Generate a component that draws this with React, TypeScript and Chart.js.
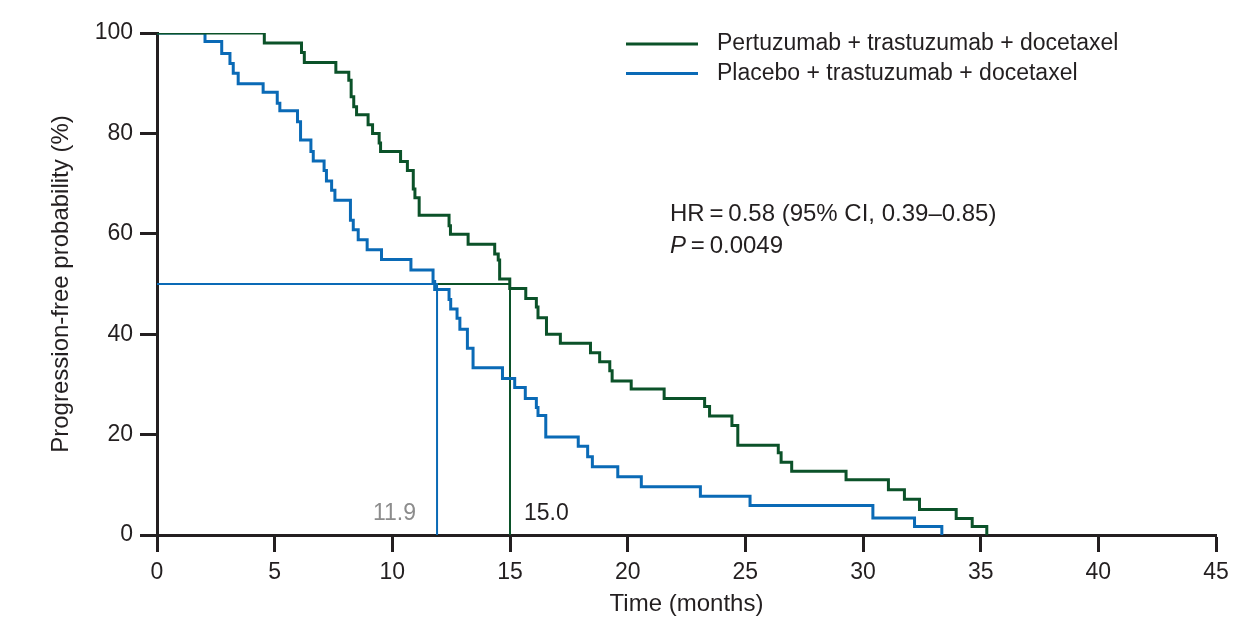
import React, { useEffect, useRef } from 'react';
import { Chart, registerables } from 'chart.js';

Chart.register(...registerables);

// ---- Data ----
const pertuzumabTimes = [0, 4.56, 6.14, 6.26, 7.6, 8.15, 8.25, 8.36, 8.48, 8.97, 9.16, 9.44, 9.5, 10.35, 10.64, 10.89, 10.96, 11.14, 12.41, 12.47, 13.22, 14.35, 14.5, 14.56, 14.99, 15.67, 16.12, 16.19, 16.55, 17.14, 18.42, 18.81, 19.24, 19.34, 20.15, 21.55, 23.27, 23.48, 24.43, 24.68, 26.4, 26.52, 26.97, 29.28, 31.08, 31.76, 32.4, 33.96, 34.64, 35.26];
const pertuzumabPFS = [100, 98, 96.1, 94.1, 92.2, 90.6, 87.3, 85.3, 83.7, 81.7, 80.0, 78.1, 76.4, 74.4, 72.6, 68.9, 67.2, 63.7, 61.6, 59.9, 57.9, 56.0, 54.8, 51.0, 49.1, 47.1, 45.4, 43.3, 40.0, 38.2, 36.3, 34.5, 32.7, 30.7, 29.1, 27.2, 25.6, 23.7, 21.8, 17.9, 16.4, 14.5, 12.7, 11.0, 9.0, 7.1, 5.1, 3.3, 1.7, 0];

const placeboTimes = [0, 2.04, 2.75, 3.1, 3.24, 3.45, 4.51, 5.11, 5.22, 5.97, 6.1, 6.54, 6.64, 7.1, 7.2, 7.42, 7.56, 8.22, 8.34, 8.55, 8.93, 9.54, 10.79, 11.73, 11.8, 12.41, 12.48, 12.75, 12.87, 13.19, 13.43, 14.68, 15.2, 15.65, 16.12, 16.19, 16.52, 17.9, 18.3, 18.5, 19.58, 20.58, 23.09, 25.2, 30.42, 32.19, 33.35];
const placeboPFS = [100, 98.3, 95.9, 93.9, 92.0, 89.9, 88.2, 86.0, 84.5, 82.3, 78.7, 76.4, 74.5, 72.6, 70.5, 68.7, 66.7, 62.7, 60.8, 58.8, 56.8, 54.9, 52.8, 50.5, 48.9, 46.9, 45.0, 43.2, 41.0, 37.2, 33.3, 31.2, 29.4, 27.2, 25.4, 23.8, 19.5, 17.7, 15.6, 13.6, 11.6, 9.6, 7.7, 5.9, 3.4, 1.7, 0];

const medianPlacebo = 11.9;
const medianPertuzumab = 15.0;
const medianLevel = 50;

const seriesLabels = ['Pertuzumab + trastuzumab + docetaxel', 'Placebo + trastuzumab + docetaxel'];
const hrText = 'HR\u2009=\u20090.58 (95% CI, 0.39\u20130.85)';
const pLabel = 'P';
const pText = '\u2009=\u20090.0049';
const xTitle = 'Time (months)';
const yTitle = 'Progression-free probability (%)';

// ---- Styles ----
const FONT = '"Liberation Sans", Arial, Helvetica, sans-serif';
const TEXT = '#231f20';
const GREEN = '#0b5229';
const BLUE = '#0a6ab6';
const GREY = '#8c8c8c';

const overlayPlugin = {
  id: 'overlay',
  afterDraw(chart: any) {
    const { ctx } = chart;
    const xs = chart.scales.x;
    const ys = chart.scales.y;
    ctx.save();
    ctx.textBaseline = 'middle';
    ctx.font = `23px ${FONT}`;
    // legend
    const colors = [GREEN, BLUE];
    seriesLabels.forEach((label, i) => {
      const ly = 44 + i * 29.5;
      ctx.strokeStyle = colors[i];
      ctx.lineWidth = 3;
      ctx.beginPath();
      ctx.moveTo(626, ly);
      ctx.lineTo(698, ly);
      ctx.stroke();
      ctx.fillStyle = TEXT;
      ctx.textAlign = 'left';
      ctx.fillText(label, 717, ly);
    });
    // HR annotation
    ctx.fillStyle = TEXT;
    ctx.textAlign = 'left';
    ctx.font = `24px ${FONT}`;
    ctx.fillText(hrText, 670, 214);
    ctx.font = `italic 24px ${FONT}`;
    ctx.fillText(pLabel, 670, 246);
    const pw = ctx.measureText(pLabel).width;
    ctx.font = `24px ${FONT}`;
    ctx.fillText(pText, 670 + pw, 246);
    // median labels
    ctx.font = `23px ${FONT}`;
    const ly = ys.getPixelForValue(4.2);
    ctx.fillStyle = GREY;
    ctx.textAlign = 'right';
    ctx.fillText(medianPlacebo.toFixed(1), xs.getPixelForValue(medianPlacebo) - 21, ly);
    ctx.fillStyle = TEXT;
    ctx.textAlign = 'left';
    ctx.fillText(medianPertuzumab.toFixed(1), xs.getPixelForValue(medianPertuzumab) + 14, ly);
    ctx.restore();
  },
};

export default function App() {
  const ref = useRef<HTMLCanvasElement>(null);

  useEffect(() => {
    const canvas = ref.current;
    if (!canvas) return;
    const toPts = (xsArr: number[], ysArr: number[]) => xsArr.map((t, i) => ({ x: t, y: ysArr[i] }));

    const chart = new Chart(canvas, {
      type: 'line',
      data: {
        datasets: [
          {
            label: seriesLabels[0],
            data: toPts(pertuzumabTimes, pertuzumabPFS),
            borderColor: GREEN,
            borderWidth: 3,
            stepped: 'before',
            pointRadius: 0,
            fill: false,
          },
          {
            label: seriesLabels[1],
            data: toPts(placeboTimes, placeboPFS),
            borderColor: BLUE,
            borderWidth: 3,
            stepped: 'before',
            pointRadius: 0,
            fill: false,
          },
          {
            label: 'median placebo',
            data: [
              { x: 0, y: medianLevel },
              { x: medianPlacebo, y: medianLevel },
              { x: medianPlacebo, y: 0 },
            ],
            borderColor: BLUE,
            borderWidth: 2,
            pointRadius: 0,
            fill: false,
          },
          {
            label: 'median pertuzumab',
            data: [
              { x: medianPlacebo, y: medianLevel },
              { x: medianPertuzumab, y: medianLevel },
              { x: medianPertuzumab, y: 0 },
            ],
            borderColor: GREEN,
            borderWidth: 2,
            pointRadius: 0,
            fill: false,
          },
        ],
      },
      options: {
        responsive: false,
        animation: false,
        devicePixelRatio: 1,
        layout: { padding: { top: 33, right: 36, bottom: 0, left: 0 } },
        plugins: {
          legend: { display: false },
          tooltip: { enabled: false },
        },
        elements: { line: { tension: 0 } },
        scales: {
          x: {
            type: 'linear',
            min: 0,
            max: 45,
            afterFit: (s: any) => {
              s.height = 84;
            },
            ticks: {
              stepSize: 5,
              color: TEXT,
              padding: 7,
              font: { family: FONT, size: 23 },
              maxRotation: 0,
              autoSkip: false,
            },
            grid: {
              drawOnChartArea: false,
              drawTicks: true,
              tickLength: 17,
              tickWidth: 3,
              tickColor: TEXT,
            },
            border: { color: TEXT, width: 3 },
            title: {
              display: true,
              text: xTitle,
              color: TEXT,
              font: { family: FONT, size: 24 },
              padding: { top: 0, bottom: 0 },
            },
          },
          y: {
            type: 'linear',
            min: 0,
            max: 100,
            afterFit: (s: any) => {
              s.width = 157;
            },
            ticks: {
              stepSize: 20,
              color: TEXT,
              padding: 7,
              font: { family: FONT, size: 23 },
            },
            grid: {
              drawOnChartArea: false,
              drawTicks: true,
              tickLength: 17,
              tickWidth: 3,
              tickColor: TEXT,
            },
            border: { color: TEXT, width: 3 },
            title: {
              display: true,
              text: yTitle,
              color: TEXT,
              font: { family: FONT, size: 24 },
              padding: { top: 47, bottom: 0 },
            },
          },
        },
      },
      plugins: [overlayPlugin],
    } as any);

    return () => chart.destroy();
  }, []);

  return (
    <div style={{ position: 'absolute', left: 0, top: 0, width: 1252, height: 619, background: '#fff' }}>
      <canvas ref={ref} width={1252} height={619} style={{ width: 1252, height: 619, display: 'block' }} />
    </div>
  );
}
